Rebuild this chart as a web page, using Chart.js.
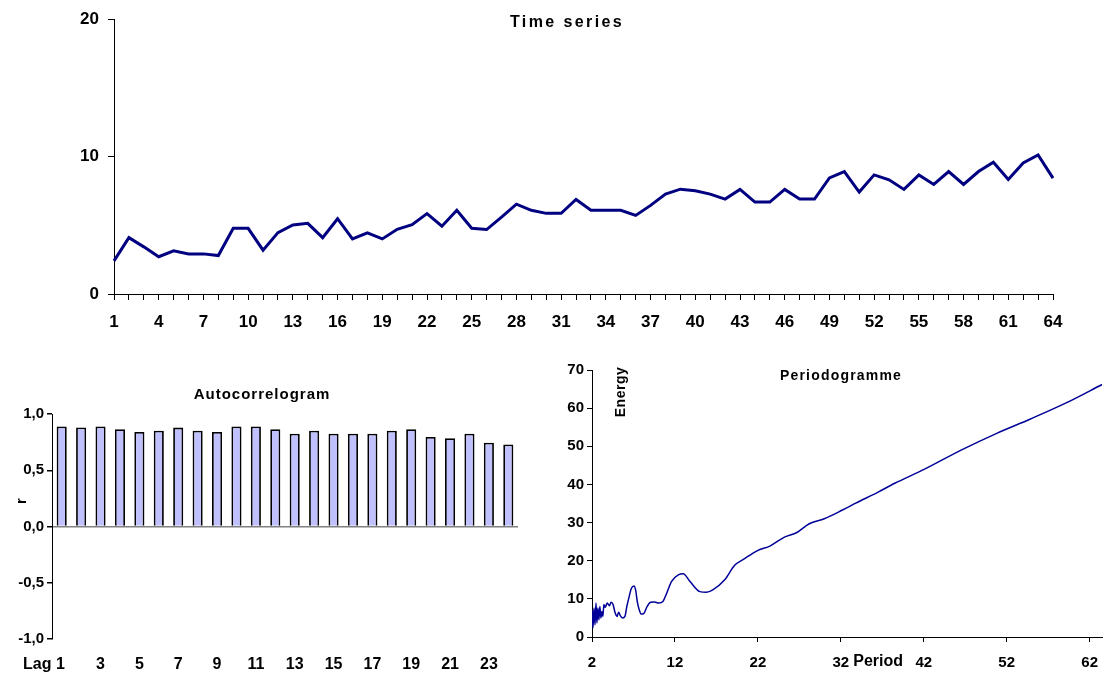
<!DOCTYPE html>
<html>
<head>
<meta charset="utf-8">
<script src="https://cdn.jsdelivr.net/npm/chart.js@4.4.1/dist/chart.umd.min.js"></script>
<style>
  html, body { margin: 0; padding: 0; background: #fff; }
  body { width: 1110px; height: 673px; position: relative; overflow: hidden; }
  .box { position: absolute; }
</style>
</head>
<body>
<div class="box" style="left:0;top:0;width:1110px;height:340px"><canvas id="ts"></canvas></div>
<div class="box" style="left:0;top:370px;width:545px;height:303px"><canvas id="acf"></canvas></div>
<div class="box" style="left:545px;top:355px;width:565px;height:318px"><canvas id="per"></canvas></div>
<script>
// ---- data ----
const timeIndex = Array.from({length: 64}, (_, i) => String(i + 1));
const seriesValues = [2.41,4.1,3.43,2.71,3.14,2.92,2.92,2.8,4.78,4.78,
  3.19,4.47,5.02,5.14,4.1,5.48,4.01,4.45,4.01,4.71,
  5.05,5.85,4.93,6.09,4.78,4.69,5.6,6.54,6.09,5.87,
  5.87,6.88,6.09,6.09,6.09,5.72,6.45,7.27,7.63,7.51,
  7.27,6.91,7.61,6.69,6.69,7.61,6.91,6.91,8.45,8.91,
  7.42,8.67,8.31,7.61,8.67,7.97,8.91,7.97,8.91,9.59,
  8.33,9.54,10.12,8.43];
const lags = Array.from({length: 24}, (_, i) => i + 1);
const acfValues = [0.89,0.88,0.89,0.864,0.84,0.852,0.879,0.852,0.84,0.89,0.89,0.864,
  0.825,0.852,0.825,0.825,0.825,0.852,0.864,0.795,0.784,0.825,0.745,0.73];
const periods = [2.0,2.12,2.24,2.36,2.48,2.59,2.71,2.83,2.95,3.07,3.19,3.31,3.43,3.59,3.83,
  4.10,4.30,4.54,4.78,5.02,5.21,5.41,5.68,5.97,6.20,6.48,6.75,7.07,7.27,7.46,7.70,7.94,
  8.26,8.65,9.05,9.53,10.04,10.55,10.84,11.6,12.4,13.0,13.8,15.0,15.8,16.6,18.0,19.2,
  20.3,21.9,23.5,25.2,26.7,28.2,30.0,32.2,33.8,36.5,38.5,42.1,46.5,50.8,54.8,59.1,63.5];
const energy = [7.1,2.4,7.6,3.2,8.9,3.7,7.6,4.5,8.0,5.0,6.7,5.4,8.5,7.8,8.9,
  8.2,9.1,8.5,6.4,5.4,6.5,5.6,5.0,5.4,8.0,10.6,12.8,13.4,12.2,9.3,7.1,6.0,
  6.2,8.0,9.1,9.2,8.9,9.3,10.6,14.6,16.3,16.6,14.6,11.9,11.7,12.4,15.0,18.8,
  20.4,22.6,23.9,26.2,27.4,29.7,31.0,33.3,35.1,38.0,40.3,44.0,49.0,53.4,57.1,61.3,66.2];
const periodTicks = [2,12,22,32,42,52,62];

const FONT = "'Liberation Sans', Arial, sans-serif";
Chart.defaults.font.family = FONT;
Chart.defaults.font.weight = 'bold';
Chart.defaults.color = '#000';
Chart.defaults.animation = false;
Chart.defaults.responsive = true;
Chart.defaults.maintainAspectRatio = false;
Chart.defaults.plugins.legend.display = false;
Chart.defaults.plugins.tooltip.enabled = false;

function textPlugin(items) {
  return {
    id: 'txt',
    afterDraw(chart) {
      const ctx = chart.ctx;
      items.forEach(it => {
        ctx.save();
        ctx.font = 'bold ' + it.size + 'px ' + FONT;
        ctx.fillStyle = '#000';
        ctx.textAlign = 'center';
        ctx.textBaseline = 'middle';
        if ('letterSpacing' in ctx) ctx.letterSpacing = (it.spacing || 0) + 'px';
        const p = it.pos(chart);
        ctx.translate(p[0], p[1]);
        if (it.rotate) ctx.rotate(it.rotate);
        ctx.fillText(it.text, 0, 0);
        ctx.restore();
      });
    }
  };
}

// ---- Time series ----
new Chart(document.getElementById('ts'), {
  type: 'line',
  data: { labels: timeIndex, datasets: [{ data: seriesValues, borderColor: '#000080', borderWidth: 3, pointRadius: 0, tension: 0 }] },
  options: {
    layout: { padding: { top: 17, right: 57, left: 0, bottom: 0 } },
    scales: {
      x: {
        offset: false,
        grid: { display: true, drawOnChartArea: false, drawTicks: true, tickLength: 6, tickColor: '#000' },
        border: { display: true, color: '#000', width: 1 },
        ticks: { autoSkip: false, maxRotation: 0, padding: 12, font: { size: 17, weight: 'bold' },
          callback: (v, i) => (i % 3 === 0 ? timeIndex[i] : '') },
        afterFit: s => { s.height = 46; }
      },
      y: {
        min: 0, max: 20,
        grid: { display: true, drawOnChartArea: false, drawTicks: true, tickLength: 6, tickColor: '#000' },
        border: { display: true, color: '#000', width: 1 },
        ticks: { stepSize: 10, padding: 9, font: { size: 17, weight: 'bold' } },
        afterFit: s => { s.width = 114; }
      }
    }
  },
  plugins: [textPlugin([{ text: 'Time series', size: 16, spacing: 2.4, pos: c => [567, 23] }])]
});

// ---- Autocorrelogram ----
new Chart(document.getElementById('acf'), {
  type: 'bar',
  data: { labels: lags, datasets: [{ data: acfValues, backgroundColor: '#c0c0ff', borderColor: '#000', borderWidth: 1.8, barPercentage: 0.52, categoryPercentage: 1 }] },
  options: {
    layout: { padding: { top: 44, right: 27, left: 0, bottom: 0 } },
    scales: {
      x: {
        grid: { display: false },
        border: { display: false },
        ticks: { autoSkip: false, maxRotation: 0, padding: 8, font: { size: 16, weight: 'bold' },
          callback: (v, i) => (i === 0 ? 'Lag 1        ' : (i % 2 === 0 ? String(lags[i]) : '')) },
        afterFit: s => { s.height = 34; }
      },
      y: {
        min: -1, max: 1,
        grid: { display: true, drawOnChartArea: true, drawTicks: true, tickLength: 5, tickColor: '#000',
          color: ctx => (ctx.tick && ctx.tick.value === 0 ? '#808080' : 'rgba(0,0,0,0)'), lineWidth: 1.5 },
        border: { display: true, color: '#000', width: 1 },
        ticks: { stepSize: 0.5, padding: 3, font: { size: 15, weight: 'bold' },
          callback: v => v.toFixed(1).replace('.', ',') },
        afterFit: s => { s.width = 52; }
      }
    }
  },
  plugins: [textPlugin([
    { text: 'Autocorrelogram', size: 15, spacing: 1, pos: c => [262, 25] },
    { text: 'r', size: 15, rotate: -Math.PI / 2, pos: c => [22, 131] }
  ])]
});

// ---- Periodogramme ----
new Chart(document.getElementById('per'), {
  type: 'scatter',
  data: { datasets: [{ data: periods.map((p, i) => ({ x: p, y: energy[i] })), showLine: true, borderColor: '#000099', borderWidth: 1.5, pointRadius: 0, cubicInterpolationMode: 'monotone' }] },
  options: {
    layout: { padding: { top: 15, right: 0, left: 0, bottom: 0 } },
    scales: {
      x: {
        type: 'linear', min: 2, max: 63.5,
        afterBuildTicks: s => { s.ticks = periodTicks.map(v => ({ value: v })); },
        grid: { display: true, drawOnChartArea: false, drawTicks: true, tickLength: 5, tickColor: '#000' },
        border: { display: true, color: '#000', width: 1 },
        ticks: { autoSkip: false, maxRotation: 0, padding: 12, font: { size: 15, weight: 'bold' } },
        afterFit: s => { s.height = 36; }
      },
      y: {
        min: 0, max: 70,
        grid: { display: true, drawOnChartArea: false, drawTicks: true, tickLength: 5, tickColor: '#000' },
        border: { display: true, color: '#000', width: 1 },
        ticks: { stepSize: 10, padding: 3, font: { size: 15, weight: 'bold' } },
        afterFit: s => { s.width = 47; }
      }
    }
  },
  plugins: [textPlugin([
    { text: 'Periodogramme', size: 14, spacing: 1.2, pos: c => [296, 21] },
    { text: 'Energy', size: 14, spacing: 0.5, rotate: -Math.PI / 2, pos: c => [c.chartArea.left + 29, c.chartArea.top + 22] },
    { text: 'Period', size: 16, pos: c => [c.scales.x.getPixelForValue(36.5), 307] }
  ])]
});
</script>
</body>
</html>
